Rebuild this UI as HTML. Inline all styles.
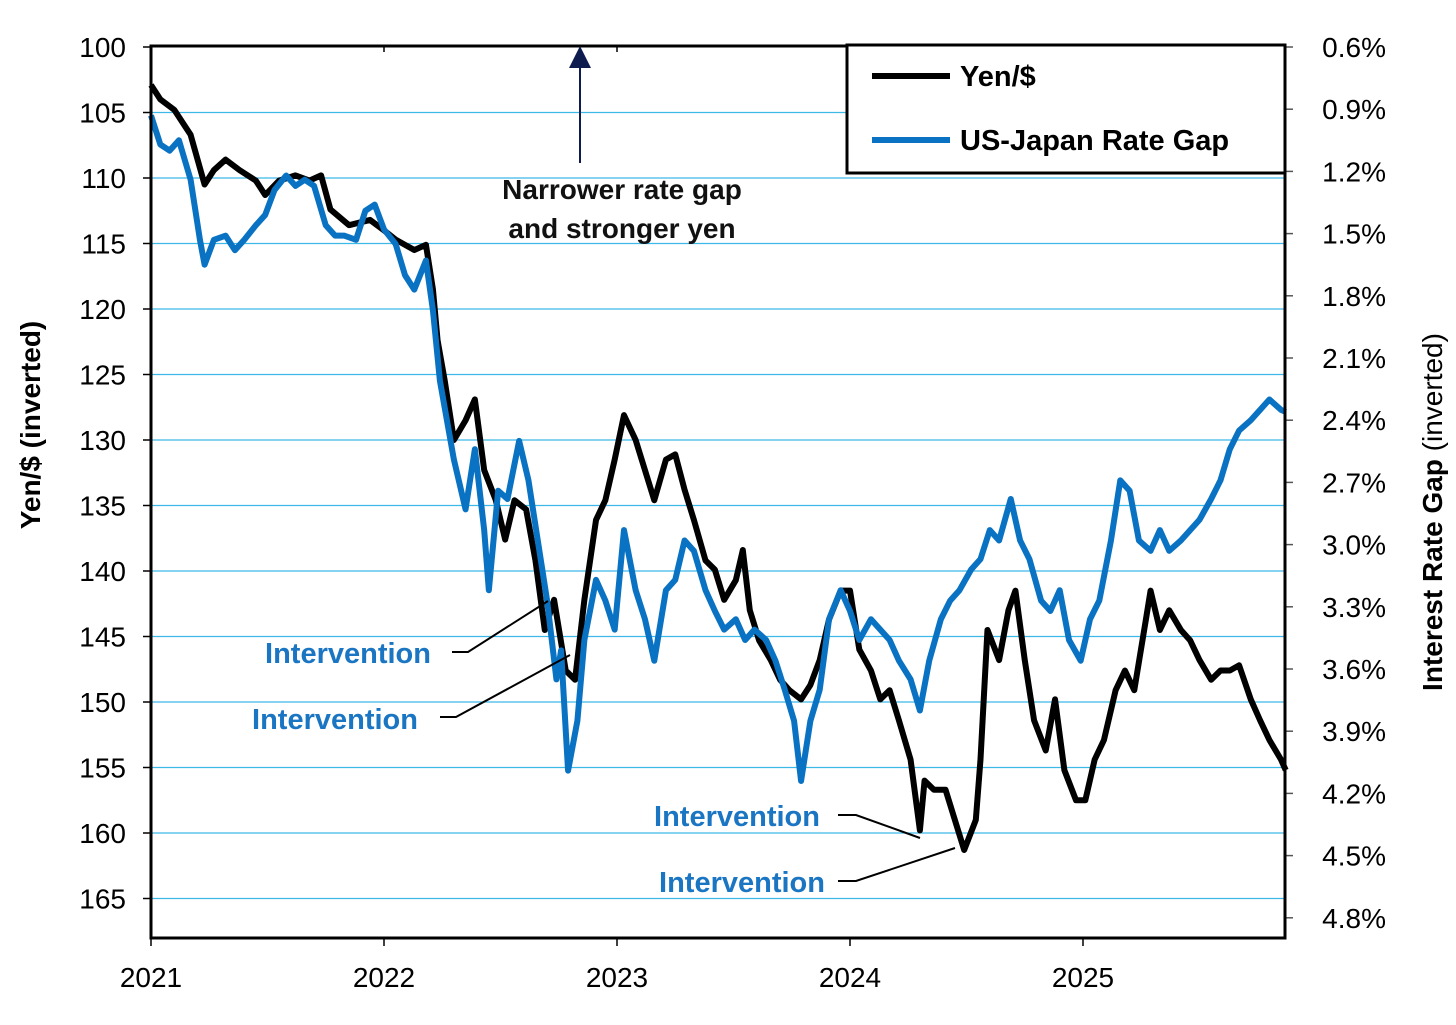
<!DOCTYPE html>
<html><head><meta charset="utf-8"><style>
body{margin:0;background:#fff;}
svg{display:block;font-family:"Liberation Sans",Arial,sans-serif;}
</style></head><body>
<svg id="chart" width="1456" height="1025" viewBox="0 0 1456 1025" xmlns="http://www.w3.org/2000/svg">
<g id="grid"></g>
<g id="series"></g>
<g id="axes"></g>
<rect x="151" y="46" width="1134" height="892" fill="none" stroke="#000" stroke-width="3"/>
<text transform="translate(40,425) rotate(-90)" text-anchor="middle" font-size="28" font-weight="bold">Yen/$ (inverted)</text>
<text transform="translate(1442,512) rotate(-90)" text-anchor="middle" font-size="28"><tspan font-weight="bold">Interest Rate Gap</tspan> (inverted)</text>
<g>
<line x1="580" y1="163" x2="580" y2="66" stroke="#0d1b4f" stroke-width="2"/>
<polygon points="580,46 569,68 591,68" fill="#0d1b4f"/>
<text x="622" y="199" text-anchor="middle" font-size="28" font-weight="bold" fill="#111">Narrower rate gap</text>
<text x="622" y="238" text-anchor="middle" font-size="28" font-weight="bold" fill="#111">and stronger yen</text>
</g>
<g font-size="29" font-weight="bold" fill="#1a75c2">
<text x="431" y="663" text-anchor="end">Intervention</text>
<polyline points="452,652 468,652 548,601" fill="none" stroke="#000" stroke-width="2"/>
<text x="418" y="729" text-anchor="end">Intervention</text>
<polyline points="440,717 456,717 570,655" fill="none" stroke="#000" stroke-width="2"/>
<text x="820" y="826" text-anchor="end">Intervention</text>
<polyline points="838,815 856,815 920,838" fill="none" stroke="#000" stroke-width="2"/>
<text x="825" y="892" text-anchor="end">Intervention</text>
<polyline points="838,881 856,881 955,848" fill="none" stroke="#000" stroke-width="2"/>
</g>
<g>
<rect x="847" y="45" width="438" height="128" fill="#fff" stroke="#000" stroke-width="3"/>
<line x1="872" y1="76" x2="950" y2="76" stroke="#000" stroke-width="6"/>
<text x="960" y="86" font-size="29" font-weight="bold">Yen/$</text>
<line x1="872" y1="140" x2="950" y2="140" stroke="#0a72c2" stroke-width="6"/>
<text x="960" y="150" font-size="29" font-weight="bold">US-Japan Rate Gap</text>
</g>
</svg>
<script>
const yenTicks=[100,105,110,115,120,125,130,135,140,145,150,155,160,165];
const rateTicks=[0.6,0.9,1.2,1.5,1.8,2.1,2.4,2.7,3.0,3.3,3.6,3.9,4.2,4.5,4.8];
const yearTicks=[2021,2022,2023,2024,2025];
const yenDates=[0,.04,.10,.17,.23,.27,.32,.38,.45,.49,.55,.62,.68,.73,.77,.85,.94,1.00,1.05,1.09,1.13,1.18,1.21,1.23,1.26,1.28,1.30,1.35,1.39,1.43,1.48,1.52,1.56,1.61,1.65,1.69,1.73,1.78,1.82,1.86,1.91,1.95,1.99,2.03,2.08,2.12,2.16,2.21,2.25,2.29,2.33,2.38,2.42,2.46,2.51,2.54,2.57,2.61,2.66,2.70,2.74,2.79,2.83,2.87,2.91,2.96,3.00,3.04,3.09,3.13,3.17,3.21,3.26,3.30,3.32,3.36,3.41,3.45,3.49,3.54,3.56,3.59,3.64,3.68,3.71,3.75,3.79,3.84,3.88,3.92,3.97,4.01,4.05,4.09,4.14,4.18,4.22,4.27,4.29,4.33,4.37,4.42,4.46,4.50,4.55,4.59,4.63,4.67,4.72,4.76,4.80,4.85,4.87];
const yenValues=[102.9,104.0,104.8,106.7,110.5,109.4,108.6,109.4,110.2,111.3,110.2,109.8,110.2,109.8,112.4,113.6,113.2,114.0,114.7,115.1,115.5,115.1,118.5,122.4,125.4,127.7,130.0,128.5,126.9,132.3,134.6,137.6,134.6,135.3,139.2,144.5,142.2,147.6,148.3,142.2,136.1,134.6,131.5,128.1,130.0,132.3,134.6,131.5,131.1,133.8,136.1,139.2,139.9,142.2,140.7,138.4,143.0,145.3,146.8,148.3,149.1,149.8,148.7,146.8,143.7,141.5,141.5,146.0,147.6,149.8,149.1,151.4,154.4,159.8,156.0,156.7,156.7,159.0,161.3,159.0,154.4,144.5,146.8,143.0,141.5,146.8,151.4,153.7,149.8,155.2,157.5,157.5,154.4,152.9,149.1,147.6,149.1,143.7,141.5,144.5,143.0,144.5,145.3,146.8,148.3,147.6,147.6,147.2,149.8,151.4,152.9,154.4,155.2];
const gapDates=[0,.04,.08,.12,.17,.21,.23,.27,.32,.36,.40,.45,.49,.53,.58,.62,.66,.70,.75,.79,.83,.88,.92,.96,1.00,1.05,1.09,1.13,1.18,1.21,1.24,1.27,1.30,1.35,1.39,1.43,1.45,1.49,1.53,1.58,1.62,1.66,1.70,1.74,1.76,1.79,1.83,1.86,1.91,1.95,1.99,2.03,2.08,2.12,2.16,2.21,2.25,2.29,2.33,2.38,2.42,2.46,2.51,2.55,2.59,2.64,2.68,2.72,2.76,2.79,2.83,2.87,2.91,2.96,3.00,3.04,3.09,3.13,3.17,3.21,3.26,3.30,3.34,3.39,3.43,3.47,3.52,3.56,3.60,3.64,3.69,3.73,3.77,3.82,3.86,3.90,3.94,3.99,4.03,4.07,4.12,4.16,4.20,4.24,4.29,4.33,4.37,4.42,4.46,4.50,4.55,4.59,4.63,4.67,4.72,4.76,4.80,4.85,4.87];
const gapValues=[0.93,1.07,1.10,1.05,1.24,1.53,1.65,1.53,1.51,1.58,1.53,1.46,1.41,1.29,1.22,1.27,1.24,1.27,1.46,1.51,1.51,1.53,1.39,1.36,1.48,1.55,1.70,1.77,1.63,1.87,2.21,2.40,2.59,2.83,2.54,2.93,3.22,2.74,2.78,2.50,2.69,2.98,3.27,3.65,3.51,4.09,3.85,3.46,3.17,3.27,3.41,2.93,3.22,3.36,3.56,3.22,3.17,2.98,3.03,3.22,3.32,3.41,3.36,3.46,3.41,3.46,3.56,3.70,3.85,4.14,3.85,3.70,3.36,3.22,3.32,3.46,3.36,3.41,3.46,3.56,3.65,3.80,3.56,3.36,3.27,3.22,3.12,3.07,2.93,2.98,2.78,2.98,3.07,3.27,3.32,3.22,3.46,3.56,3.36,3.27,2.98,2.69,2.74,2.98,3.03,2.93,3.03,2.98,2.93,2.88,2.78,2.69,2.54,2.45,2.40,2.35,2.30,2.35,2.36];
const NS='http://www.w3.org/2000/svg';
const X=t=>151+t*233;
const Xy=y=>X(y-2021);
const Yl=v=>47+(v-100)*13.1;
const Yr=r=>47+(r-0.6)/0.3*62.2;
function mk(tag,attrs,parent){const e=document.createElementNS(NS,tag);for(const k in attrs)e.setAttribute(k,attrs[k]);parent.appendChild(e);return e;}
const grid=document.getElementById('grid'),axes=document.getElementById('axes'),series=document.getElementById('series');
yenTicks.forEach(v=>{
  const y=Yl(v);
  if(v!==100){const g=mk('line',{x1:151,x2:1285,y1:y,y2:y,stroke:'#3cb9e6','stroke-width':1.3},grid);
  
  }
  mk('line',{x1:143,x2:151,y1:y,y2:y,stroke:'#000','stroke-width':1.5},axes);
  const t=mk('text',{x:126,y:y+10,'text-anchor':'end','font-size':28},axes);t.textContent=v;
  
  
});
rateTicks.forEach(r=>{
  const y=Yr(r);
  mk('line',{x1:1285,x2:1293,y1:y,y2:y,stroke:'#555','stroke-width':1.5},axes);
  const t=mk('text',{x:1386,y:y+10,'text-anchor':'end','font-size':28},axes);t.textContent=r.toFixed(1)+'%';
  
  
});
yearTicks.forEach(yr=>{
  const x=Xy(yr);
  mk('line',{x1:x,x2:x,y1:938,y2:946,stroke:'#000','stroke-width':1.5},axes);
  mk('line',{x1:x,x2:x,y1:46,y2:52,stroke:'#000','stroke-width':1.5},axes);
  const t=mk('text',{x:x,y:987,'text-anchor':'middle','font-size':28},axes);t.textContent=yr;
  
  
});
const yp=mk('polyline',{points:yenDates.map((d,i)=>X(d)+','+Yl(yenValues[i])).join(' '),fill:'none',stroke:'#000','stroke-width':6,'stroke-linejoin':'round'},series);


const gp=mk('polyline',{points:gapDates.map((d,i)=>X(d)+','+Yr(gapValues[i])).join(' '),fill:'none',stroke:'#0a72c2','stroke-width':6,'stroke-linejoin':'round'},series);


</script>
</body></html>
